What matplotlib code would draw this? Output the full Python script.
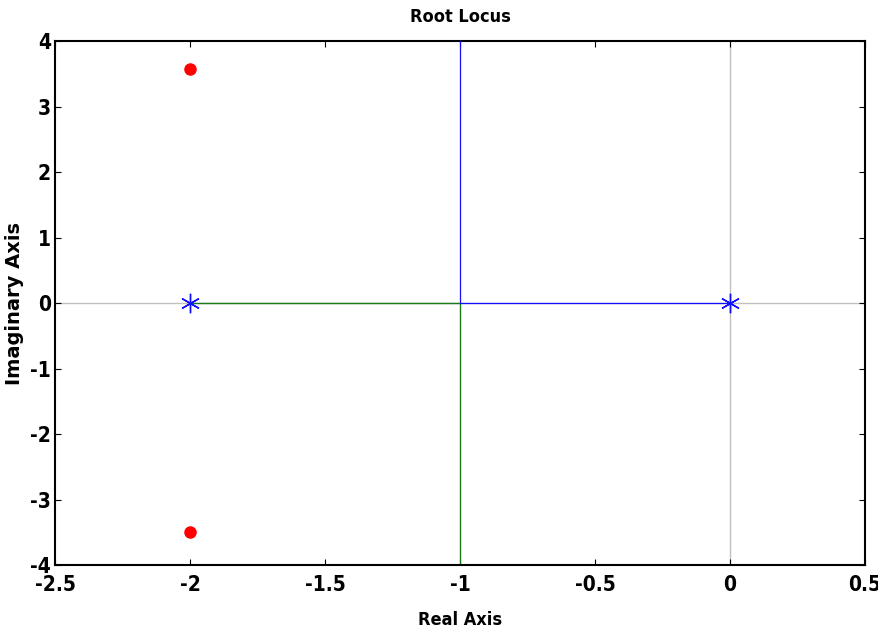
import matplotlib
matplotlib.use('Agg')
from matplotlib import pyplot as plt

plt.rcParams['axes.unicode_minus'] = False

# root locus branches (real part, imaginary part)
blue_re = [0.0, -1.0, -1.0]
blue_im = [0.0, 0.0, 4.0]
green_re = [-2.0, -1.0, -1.0]
green_im = [0.0, 0.0, -4.0]

# open loop poles
poles_re = [-2.0, 0.0]
poles_im = [0.0, 0.0]

# closed loop points
pts_re = [-2.0, -2.0]
pts_im = [3.58, -3.49]

xticks = [-2.5, -2, -1.5, -1, -0.5, 0, 0.5]
xticklabels = ['-2.5', '-2', '-1.5', '-1', '-0.5', '0', '0.5']
yticks = [-4, -3, -2, -1, 0, 1, 2, 3, 4]

fig = plt.figure(figsize=(8.79, 6.34), dpi=100)
ax = fig.add_axes([0.0626, 0.1088, 0.9214, 0.8265])

# axis lines through origin
ax.axhline(0, color='#c0c0c0', lw=1, zorder=1)
ax.axvline(0, color='#c0c0c0', lw=1, zorder=1)

ax.plot(green_re, green_im, color='#1a7a1a', lw=1, zorder=2)
ax.plot(blue_re, blue_im, color='#1010ff', lw=0.9, zorder=3)
ax.plot(poles_re, poles_im, ls='none', marker=(6, 2, 0), ms=14, mew=1,
        color='#1010ff', zorder=4)
ax.plot(pts_re, pts_im, ls='none', marker='o', ms=8, color='red', zorder=5)

ax.set_xlim(-2.5, 0.5)
ax.set_ylim(-4, 4)
ax.set_xticks(xticks)
ax.set_xticklabels(xticklabels)
ax.set_yticks(yticks)
ax.tick_params(direction='in', top=True, right=True, length=4, width=0.8,
               labelsize=15, pad=3)
ax.tick_params(axis='x', pad=7)
for lab in ax.get_xticklabels() + ax.get_yticklabels():
    lab.set_fontweight('bold')
    lab.set_fontstretch('condensed')

for s in ax.spines.values():
    s.set_linewidth(1.5)

ax.set_title('Root Locus', fontweight='bold', fontsize=13,
             fontstretch='condensed', pad=14)
ax.set_xlabel('Real Axis', fontweight='bold', fontsize=13,
              fontstretch='condensed', labelpad=12)
ax.set_ylabel('Imaginary Axis', fontweight='bold', fontsize=14, labelpad=4)

plt.savefig('out.png', dpi=100)
